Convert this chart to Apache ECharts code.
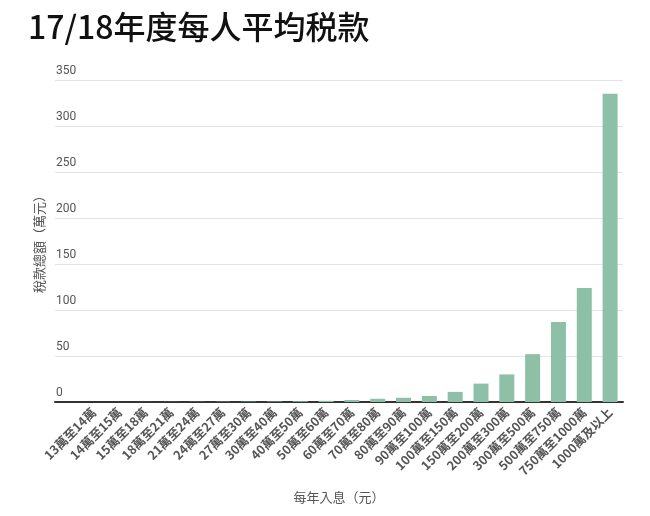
<!DOCTYPE html>
<html><head><meta charset="utf-8">
<script src="https://cdn.jsdelivr.net/npm/echarts@6/dist/echarts.min.js"></script>
<style>html,body{margin:0;padding:0;background:#fff}#c{width:650px;height:516px}</style>
</head><body><div id="c"></div>
<script>
const categories = ['13萬至14萬','14萬至15萬','15萬至18萬','18萬至21萬','21萬至24萬','24萬至27萬','27萬至30萬','30萬至40萬','40萬至50萬','50萬至60萬','60萬至70萬','70萬至80萬','80萬至90萬','90萬至100萬','100萬至150萬','150萬至200萬','200萬至300萬','300萬至500萬','500萬至750萬','750萬至1000萬','1000萬及以上'];
const taxValues = [0.02,0.04,0.08,0.15,0.22,0.3,0.38,0.5,0.8,1.3,2.2,3.5,4.6,6.5,11,20,30,52,87,124,335];
const yTicks = [0,50,100,150,200,250,300,350];

// the reference leaves one empty slot before the first category
const axisData = [''].concat(categories);
const seriesData = [null].concat(taxValues);

const chart = echarts.init(document.getElementById('c'));
const font = '"Noto Sans CJK TC", "Noto Sans", sans-serif';
chart.setOption({
  animation:false,
  title:{text:'17/18年度每人平均税款',left:23,top:6,textStyle:{fontFamily:font,fontSize:32,fontWeight:500,color:'#111'}},
  grid:{left:55,right:27,top:80,bottom:114},
  xAxis:{type:'category',data:axisData,
    name:'每年入息（元）',nameLocation:'middle',nameGap:89,
    nameTextStyle:{fontFamily:font,fontSize:13,color:'#555'},
    axisLine:{lineStyle:{color:'#333',width:2}},axisTick:{show:false},
    axisLabel:{interval:0,rotate:45,fontFamily:font,fontSize:12.5,fontWeight:'bold',color:'#555',margin:8}},
  yAxis:{type:'value',min:yTicks[0],max:yTicks[yTicks.length-1],interval:50,
    name:'稅款總額（萬元）',nameLocation:'middle',nameGap:7,nameRotate:90,
    nameTextStyle:{fontFamily:font,fontSize:13,color:'#555'},
    axisLine:{show:false},axisTick:{show:false},
    splitLine:{lineStyle:{color:'#e3e3e3',width:1}},
    axisLabel:{inside:true,verticalAlign:'bottom',margin:1,padding:[0,0,3,0],fontFamily:'Roboto, sans-serif',fontSize:12,color:'#555'}},
  series:[{type:'bar',data:seriesData,barWidth:15,itemStyle:{color:'#8dc0a6'}}]
});
</script></body></html>
